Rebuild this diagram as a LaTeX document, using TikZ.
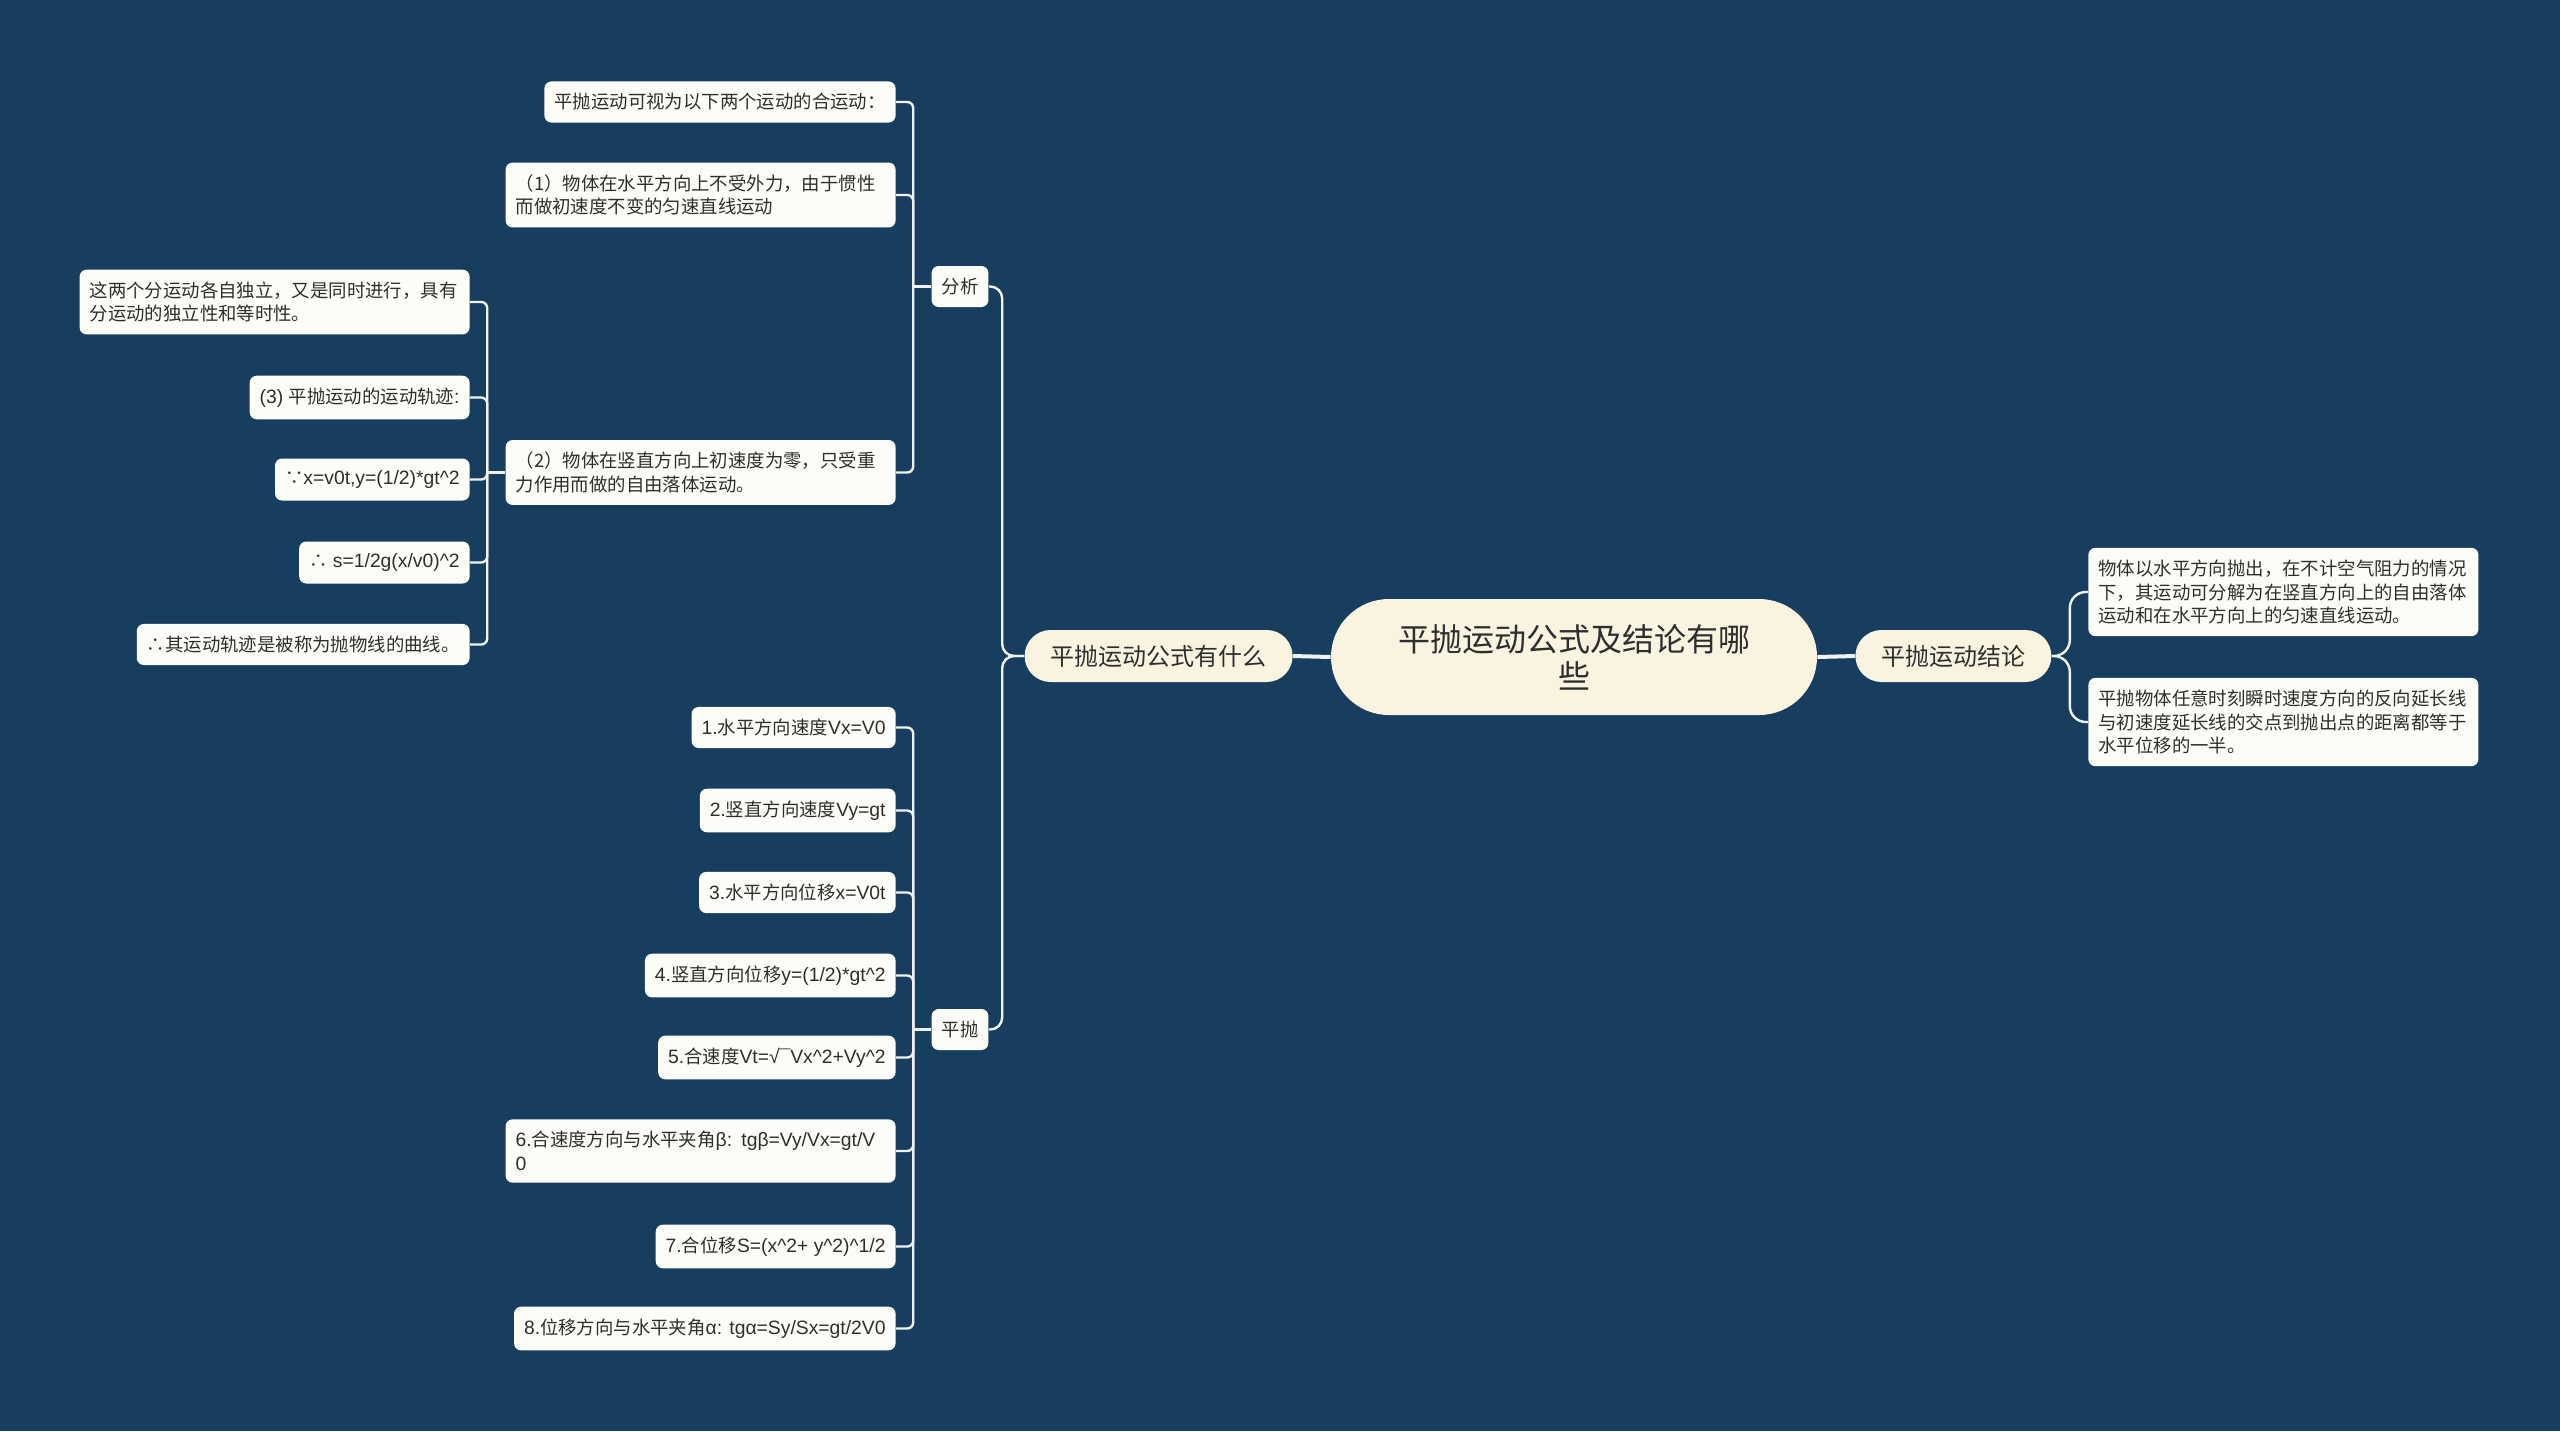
\documentclass[tikz,border=0pt]{standalone}
\usepackage{fontspec}
\usepackage{tikz}
\usetikzlibrary{positioning}
\newfontfamily\cjk{Noto Sans CJK SC}
\newfontfamily\lat[Scale=1.05]{Liberation Sans}
\definecolor{bgblue}{HTML}{173E5F}
\definecolor{cream}{HTML}{F9F4E0}
\definecolor{paper}{HTML}{FDFDF7}
\definecolor{ink}{HTML}{2E2E2E}
\definecolor{wire}{HTML}{F0F2F2}
\newcommand{\pw}{\textasciicircum{}}
\newcommand{\la}[1]{{\lat #1}}

\begin{document}
\begin{tikzpicture}[
    x=0.5pt, y=-0.5pt,
    rootnode/.style={fill=cream, rounded corners=29pt, minimum width=243pt, minimum height=58pt, text width=190pt, align=center, font=\cjk\fontsize{16}{18.5}\selectfont, text=ink},
    topic/.style={fill=cream, rounded corners=13pt, minimum height=26pt, inner xsep=13pt, font=\cjk\fontsize{12}{14}\selectfont, text=ink},
    leaf/.style={fill=paper, rounded corners=3.5pt, minimum height=20.5pt, inner xsep=5pt, inner ysep=6pt, font=\cjk\fontsize{9.2}{11.8}\selectfont, text=ink},
    wideleaf/.style={leaf, text width=185pt, align=left},
    branch/.style={draw=wire, line width=1.2pt, rounded corners=3pt},
    trunk/.style={draw=wire, line width=2pt},
]
    \useasboundingbox (0,0) rectangle (2560,1431);
    \fill[bgblue] (0,0) rectangle (2560,1431);

    % centre and main topics
    \node[rootnode] (root) at (1574,657) {平抛运动公式及结论有哪\\些};
    \node[topic, anchor=east] (formula) at (1293,656) {平抛运动公式有什么};
    \node[topic, anchor=west] (result) at (1855,656) {平抛运动结论};

    % conclusions
    \node[wideleaf, anchor=west] (r1) at (2088,592) {物体以水平方向抛出，在不计空气阻力的情况\\下，其运动可分解为在竖直方向上的自由落体\\运动和在水平方向上的匀速直线运动。};
    \node[wideleaf, anchor=west] (r2) at (2088,722) {平抛物体任意时刻瞬时速度方向的反向延长线\\与初速度延长线的交点到抛出点的距离都等于\\水平位移的一半。};

    % sub topics
    \node[leaf] (fenxi) at (960,286.5) {分析};
    \node[leaf] (pingpao) at (960,1029.5) {平抛};

    \node[leaf, anchor=east] (f1) at (896,102) {平抛运动可视为以下两个运动的合运动：};
    \node[wideleaf, anchor=east] (f2) at (896,195) {（1）物体在水平方向上不受外力，由于惯性\\而做初速度不变的匀速直线运动};
    \node[wideleaf, anchor=east] (f3) at (896,472.5) {（2）物体在竖直方向上初速度为零，只受重\\力作用而做的自由落体运动。};

    \node[wideleaf, anchor=east] (g1) at (470,302) {这两个分运动各自独立，又是同时进行，具有\\分运动的独立性和等时性。};
    \node[leaf, anchor=east] (g2) at (470,397.5) {\la{(3) }平抛运动的运动轨迹\la{:}};
    \node[leaf, anchor=east] (g3) at (470,479.5) {∵\la{x=v0t,y=(1/2)*gt\pw2}};
    \node[leaf, anchor=east] (g4) at (470,562.5) {∴\la{ s=1/2g(x/v0)\pw2}};
    \node[leaf, anchor=east] (g5) at (470,644.5) {∴其运动轨迹是被称为抛物线的曲线。};

    \node[leaf, anchor=east] (p1) at (896,727.5) {\la{1.}水平方向速度\la{Vx=V0}};
    \node[leaf, anchor=east] (p2) at (896,810.5) {\la{2.}竖直方向速度\la{Vy=gt}};
    \node[leaf, anchor=east] (p3) at (896,892.5) {\la{3.}水平方向位移\la{x=V0t}};
    \node[leaf, anchor=east] (p4) at (896,975.5) {\la{4.}竖直方向位移\la{y=(1/2)*gt\pw2}};
    \node[leaf, anchor=east] (p5) at (896,1057.5) {\la{5.}合速度\la{Vt=√¯Vx\pw2+Vy\pw2}};
    \node[wideleaf, anchor=east] (p6) at (896,1151) {\la{6.}合速度方向与水平夹角\la{β: tgβ=Vy/Vx=gt/V}\\\la{0}};
    \node[leaf, anchor=east] (p7) at (896,1246.5) {\la{7.}合位移\la{S=(x\pw2+ y\pw2)\pw1/2}};
    \node[leaf, anchor=east] (p8) at (896,1328.5) {\la{8.}位移方向与水平夹角\la{α: tgα=Sy/Sx=gt/2V0}};

    % connectors
    \draw[trunk] (root.west) -- (formula.east);
    \draw[trunk] (root.east) -- (result.west);

    \foreach \n in {fenxi,pingpao}
        \draw[branch, rounded corners=6pt] (formula.west) -- ++(-11pt,0) |- (\n.east);
    \foreach \n in {r1,r2}
        \draw[branch, rounded corners=8pt] (result.east) -- ++(9pt,0) |- (\n.west);

    \coordinate (fx) at ([xshift=-9pt]fenxi.west);
    \draw[branch] (fenxi.west) -- (fx);
    \foreach \n in {f1,f2,f3}
        \draw[branch] (fx) |- (\n.east);

    \coordinate (gx) at ([xshift=-9pt]f3.west);
    \draw[branch] (f3.west) -- (gx);
    \foreach \n in {g1,g2,g3,g4,g5}
        \draw[branch] (gx) |- (\n.east);

    \coordinate (px) at ([xshift=-9pt]pingpao.west);
    \draw[branch] (pingpao.west) -- (px);
    \foreach \n in {p1,p2,p3,p4,p5,p6,p7,p8}
        \draw[branch] (px) |- (\n.east);
\end{tikzpicture}
\end{document}
